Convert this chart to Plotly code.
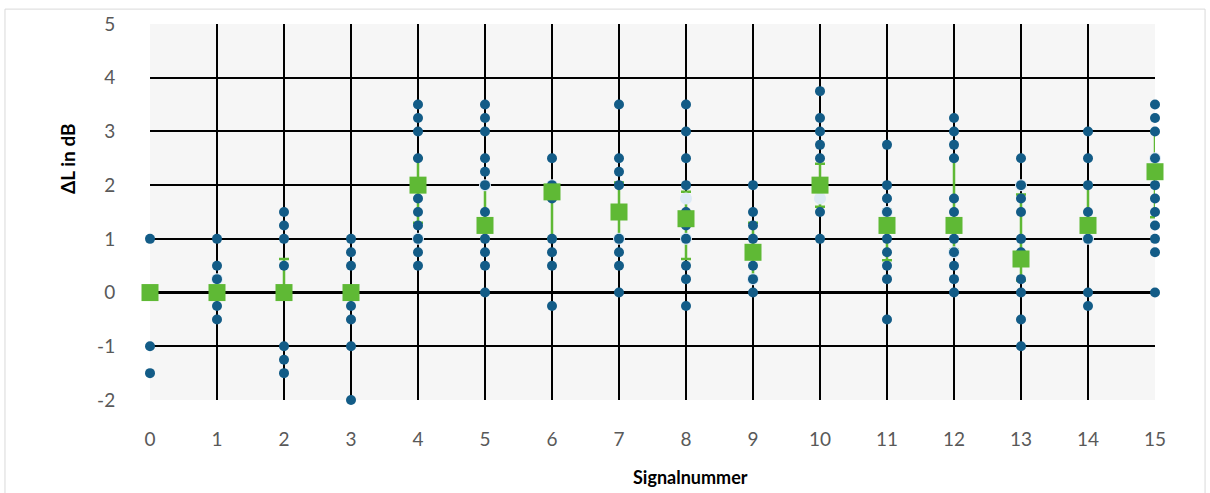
import plotly.graph_objects as go

signals = list(range(16))

# individual ratings per signal (dark dots)
ratings = {
    0: [1, -1, -1.5],
    1: [1, 0.5, 0.25, -0.25, -0.5],
    2: [1.5, 1.25, 1, 0.5, -1, -1.25, -1.5],
    3: [1, 0.75, 0.5, -0.25, -0.5, -1, -2],
    4: [3.5, 3.25, 3, 2.5, 1.75, 1.5, 1.25, 1, 0.75, 0.5],
    5: [3.5, 3.25, 3, 2.5, 2.25, 2, 1.5, 1, 0.75, 0.5, 0],
    6: [2.5, 2, 1.75, 1, 0.75, 0.5, -0.25],
    7: [3.5, 2.5, 2.25, 2, 1, 0.75, 0.5, 0],
    8: [3.5, 3, 2.5, 2, 1.5, 1.25, 1, 0.5, 0.25, -0.25],
    9: [2, 1.5, 1.25, 1, 0.5, 0.25, 0],
    10: [3.75, 3.25, 3, 2.75, 2.5, 1.5, 1],
    11: [2.75, 2, 1.75, 1.5, 1, 0.75, 0.5, 0.25, -0.5],
    12: [3.25, 3, 2.75, 2.5, 1.75, 1.5, 1, 0.75, 0.5, 0.25, 0],
    13: [2.5, 2, 1.75, 1.5, 1, 0.75, 0.25, 0, -0.5, -1],
    14: [3, 2.5, 2, 1.5, 1, 0, -0.25],
    15: [3.5, 3.25, 3, 2.5, 2, 1.75, 1.5, 1.25, 1, 0.75, 0],
}

# second (pale) series
pale_x = [1, 4, 5, 6, 7, 8, 8, 9, 10, 11, 12, 13, 14, 15]
pale_y = [0.25, 1, 2, 2, 1, 1.75, 1, 0.25, 1.75, 1.5, 0.75, 2, 1, 2.5]

# medians and error bars
median = [0, 0, 0, 0, 2, 1.25, 1.875, 1.5, 1.375, 0.75, 2, 1.25, 1.25, 0.625, 1.25, 2.25]
err_plus = [0, 0, 0.625, 0, 0.5, 0.75, 0.125, 0.55, 0.5, 0.55, 0.4, 0.3, 1.25, 1.2, 0.75, 0.75]
err_minus = [0, 0, 0, 0, 0.7, 0.25, 0.875, 0.5, 0.75, 0.5, 0.4, 0.65, 0.45, 0.4, 0.25, 0.85]

x_ticks = list(range(16))
y_ticks = list(range(-2, 6))

DARK = "#135C87"
PALE = "#DCEAF6"
GREEN = "#5FB935"

dot_x = [s for s in signals for _ in ratings[s]]
dot_y = [v for s in signals for v in ratings[s]]

fig = go.Figure()

# error bars first so the dots sit on top of them
fig.add_trace(go.Scatter(
    x=signals, y=median, mode="markers",
    marker=dict(size=1, opacity=0),
    error_y=dict(type="data", symmetric=False, array=err_plus, arrayminus=err_minus,
                 color=GREEN, thickness=2.5, width=5),
    cliponaxis=False, showlegend=False, hoverinfo="skip",
))
fig.add_trace(go.Scatter(
    x=pale_x, y=pale_y, mode="markers",
    marker=dict(size=12, color=PALE),
    cliponaxis=False, showlegend=False,
))
fig.add_trace(go.Scatter(
    x=dot_x, y=dot_y, mode="markers",
    marker=dict(size=10, color=DARK),
    cliponaxis=False, showlegend=False,
))
fig.add_trace(go.Scatter(
    x=signals, y=median, mode="markers",
    marker=dict(size=17, color=GREEN, symbol="square"),
    cliponaxis=False, showlegend=False,
))

font = "Lato, 'Open Sans', sans-serif"

fig.update_layout(
    width=1210, height=493,
    margin=dict(l=150, r=55, t=21, b=93),
    paper_bgcolor="white",
    plot_bgcolor="#F6F6F6",
    font=dict(family=font, color="#595959", size=19),
    xaxis=dict(
        range=[0, 15], tickvals=x_ticks, ticktext=[str(v) for v in x_ticks],
        showgrid=True, gridcolor="black", gridwidth=1.6,
        zeroline=False, showline=False,
        ticks="outside", ticklen=22, tickcolor="rgba(0,0,0,0)",
    ),
    yaxis=dict(
        range=[-2, 5], tickvals=y_ticks, ticktext=[str(v) for v in y_ticks],
        showgrid=True, gridcolor="black", gridwidth=1.6,
        zeroline=True, zerolinecolor="black", zerolinewidth=3,
        showline=False,
        ticks="outside", ticklen=30, tickcolor="rgba(0,0,0,0)",
    ),
    annotations=[
        dict(text="<b>ΔL in dB</b>", xref="paper", yref="paper",
             x=-0.0955, y=0.64, textangle=-90, showarrow=False,
             font=dict(size=19, color="black", family=font)),
        dict(text="<b>Signalnummer</b>", xref="paper", yref="paper",
             x=0.538, y=-0.24, showarrow=False,
             font=dict(size=18, color="black", family=font)),
    ],
    shapes=[
        dict(type="rect", xref="paper", yref="paper",
             x0=-0.1443, x1=1.0498, y0=-0.26, y1=1.0396,
             line=dict(color="#D9D9D9", width=1), layer="below"),
    ],
)

fig.write_html("out.html", config={"displayModeBar": False},
               post_script="document.body.style.margin='0';")
